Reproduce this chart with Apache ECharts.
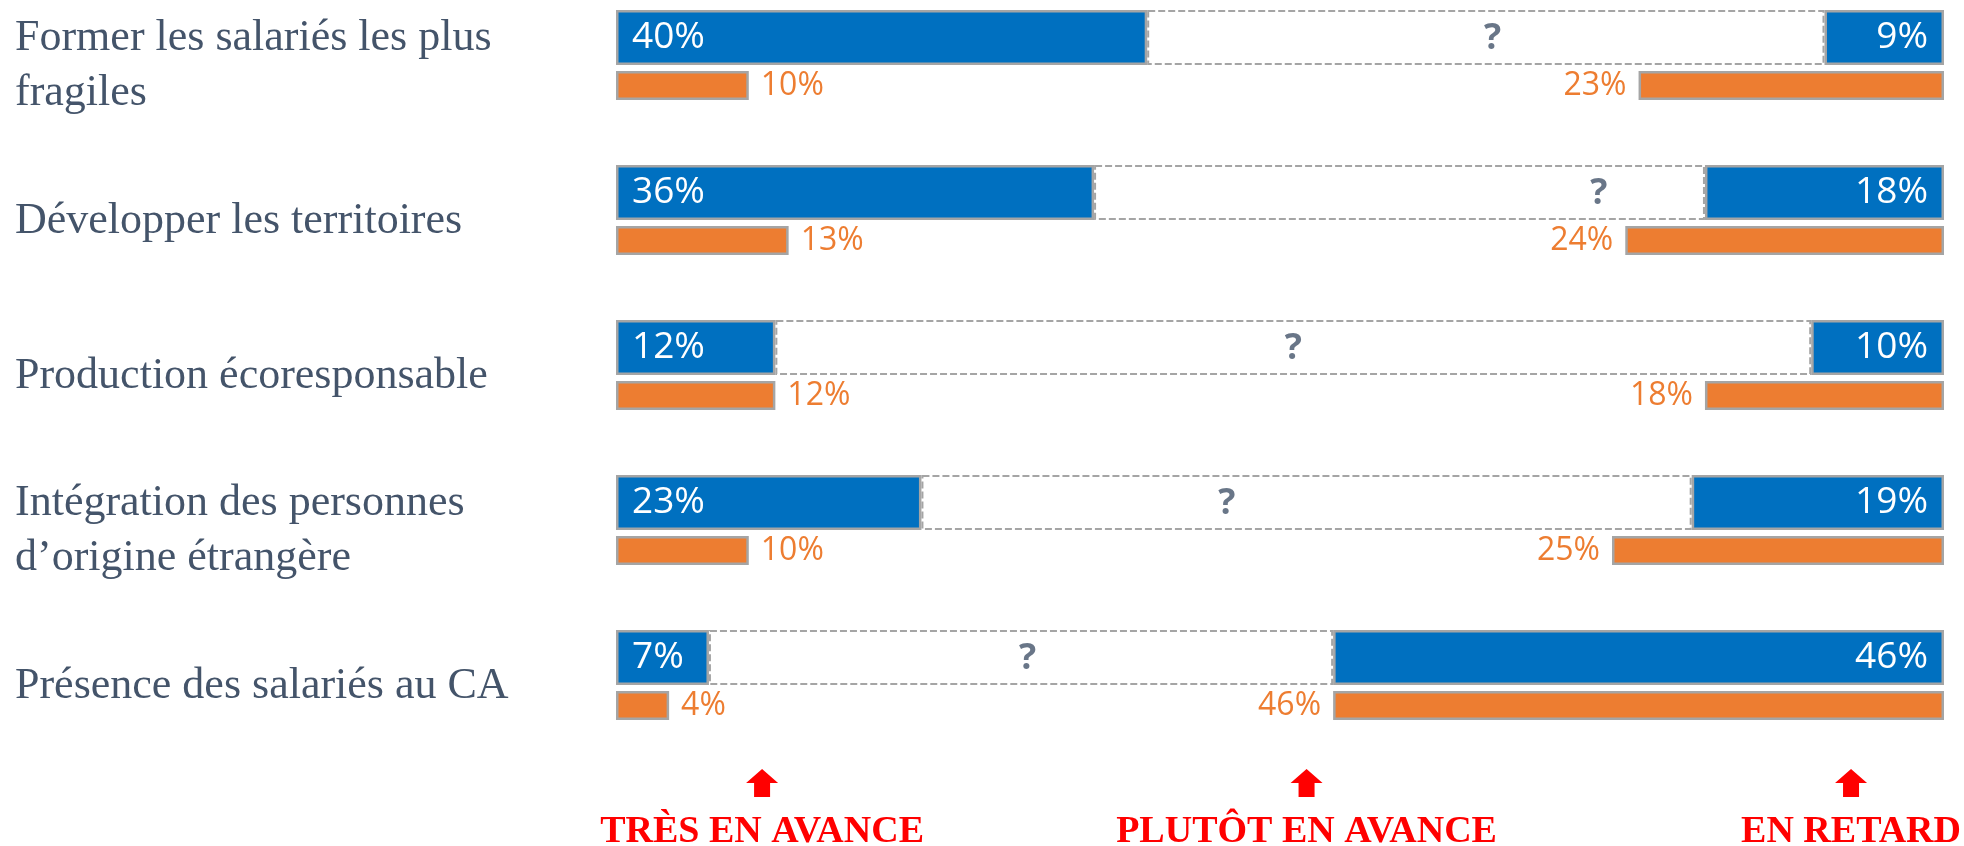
<!DOCTYPE html>
<html>
<head>
<meta charset="utf-8">
<title>Avancement</title>
<script src="https://cdn.jsdelivr.net/npm/echarts@6/dist/echarts.min.js"></script>
<style>
  html, body { margin: 0; padding: 0; background: #fff; }
  #chart { width: 1964px; height: 846px; }
</style>
</head>
<body>
<div id="chart"></div>
<script>
  // thèmes (axe vertical)
  const categories = [
    'Former les salariés les plus\nfragiles',
    'Développer les territoires',
    'Production écoresponsable',
    'Intégration des personnes\nd’origine étrangère',
    'Présence des salariés au CA'
  ]
  // barre bleue : part gauche / part droite (%)
  const blueLeft = [40, 36, 12, 23, 7]
  const blueRight = [9, 18, 10, 19, 46]
  // barre orange : part gauche / part droite (%)
  const orangeLeft = [10, 13, 12, 10, 4]
  const orangeRight = [23, 24, 18, 25, 46]
  // où est posé le "?" dans la zone pointillée
  const questionPos = [66, 74, 51, 46, 31]
  // repères sous le graphique
  const markerLabels = ['TRÈS EN AVANCE', 'PLUTÔT EN AVANCE', 'EN RETARD']
  const markerPos = [11, 52, 93]

  const BLUE = '#0070C0'
  const ORANGE = '#ED7D31'
  const GREY = '#A5A5A5'
  const SLATE = '#44546A'

  const blueMid = blueLeft.map((v, i) => 100 - v - blueRight[i])
  const orangeMid = orangeLeft.map((v, i) => 100 - v - orangeRight[i])

  const pct = p => p.value + '%'
  const barBase = {
    type: 'bar',
    barGap: '10.9%',
    barCategoryGap: 0
  }
  const blueBar = Object.assign({}, barBase, { stack: 'blue', barWidth: 55 })
  const orangeBar = Object.assign({}, barBase, { stack: 'orange', barWidth: 29 })

  let myChart = echarts.init(document.getElementById('chart'))
  myChart.setOption({
    animation: false,
    grid: { left: 616, right: 20, top: -22.5, height: 775, outerBoundsMode: 'none' },
    xAxis: { type: 'value', min: 0, max: 100, show: false },
    yAxis: {
      type: 'category',
      inverse: true,
      data: categories,
      axisLine: { show: false },
      axisTick: { show: false },
      splitLine: { show: false },
      axisLabel: {
        interval: 0,
        align: 'left',
        margin: 601,
        // ligne vide en tête pour descendre un peu le texte
        formatter: v => '{sp|}\n' + v,
        rich: { sp: { lineHeight: 22, fontSize: 1 } },
        fontFamily: 'Liberation Serif',
        fontSize: 44,
        lineHeight: 55,
        color: SLATE
      }
    },
    series: [
      Object.assign({}, blueBar, {
        data: blueLeft,
        itemStyle: { color: BLUE, borderColor: GREY, borderWidth: 2.5 },
        label: { show: true, position: 'insideLeft', distance: 16, formatter: pct,
          color: '#fff', fontFamily: 'Open Sans', fontSize: 37 }
      }),
      Object.assign({}, blueBar, {
        data: blueMid,
        itemStyle: { color: 'rgba(0,0,0,0)', borderColor: GREY, borderWidth: 2, borderType: [7, 3] }
      }),
      Object.assign({}, blueBar, {
        data: blueRight,
        itemStyle: { color: BLUE, borderColor: GREY, borderWidth: 2.5 },
        label: { show: true, position: 'insideRight', distance: 16, formatter: pct,
          color: '#fff', fontFamily: 'Open Sans', fontSize: 37 }
      }),
      Object.assign({}, orangeBar, {
        data: orangeLeft,
        itemStyle: { color: ORANGE, borderColor: GREY, borderWidth: 2.5 },
        label: { show: true, position: 'right', distance: 12, formatter: pct,
          color: ORANGE, fontFamily: 'Open Sans', fontSize: 32 }
      }),
      Object.assign({}, orangeBar, {
        data: orangeMid,
        itemStyle: { color: 'rgba(0,0,0,0)' }
      }),
      Object.assign({}, orangeBar, {
        data: orangeRight,
        itemStyle: { color: ORANGE, borderColor: GREY, borderWidth: 2.5 },
        label: { show: true, position: 'left', distance: 12, formatter: pct,
          color: ORANGE, fontFamily: 'Open Sans', fontSize: 32 }
      }),
      {
        // les "?" au milieu des zones pointillées
        type: 'scatter',
        symbolSize: 1,
        itemStyle: { color: 'rgba(0,0,0,0)' },
        data: questionPos.map((v, i) => [v, i]),
        label: { show: true, position: 'inside', offset: [0, -16], formatter: '?',
          color: SLATE, fontFamily: 'Open Sans', fontWeight: 'bold', fontSize: 36 }
      }
    ]
  })

  // flèches + libellés rouges placés sur l'échelle de l'axe x
  let graphics = []
  markerPos.forEach((v, i) => {
    const cx = myChart.convertToPixel({ gridIndex: 0 }, [v, 0])[0]
    graphics.push({
      type: 'polygon',
      shape: { points: [[cx, 769], [cx + 16, 783], [cx + 8, 783], [cx + 8, 797],
        [cx - 8, 797], [cx - 8, 783], [cx - 16, 783]] },
      style: { fill: '#FF0000' }
    })
    graphics.push({
      type: 'text',
      x: cx,
      y: 832,
      style: { text: markerLabels[i], align: 'center', verticalAlign: 'middle',
        fill: '#FF0000', font: 'bold 38px "Liberation Serif"' }
    })
  })
  myChart.setOption({ graphic: graphics })
</script>
</body>
</html>
